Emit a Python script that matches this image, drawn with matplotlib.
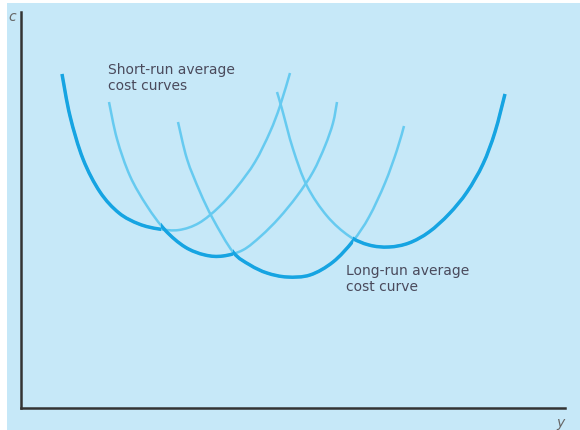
#!/usr/bin/env python3

"""
Short-run and long-run average cost curves: the long-run curve is the
lower envelope of the short-run curves.
"""

import matplotlib as mpl
import matplotlib.pyplot as plt
import numpy as np
from matplotlib.patches import PathPatch, Rectangle
from matplotlib.path import Path

mpl.use("Agg")

# Short-run average cost curves, (output, cost) points
sr1_y = [41, 49, 62, 79, 98, 118, 138, 158, 178, 198, 216, 234, 249, 259, 269]
sr1_c = [334, 292, 249, 216, 195, 184, 179, 178, 185, 201, 221, 246, 276, 302, 335]

sr2_y = [88, 96, 109, 126, 144, 164, 184, 202, 222, 240, 258, 276, 292, 304, 312, 316]
sr2_c = [306, 269, 232, 202, 178, 161, 153, 152, 158, 172, 190, 212, 236, 262, 285, 306]

sr3_y = [157, 166, 179, 192, 212, 229, 246, 266, 289, 312, 332, 348, 364, 376, 383]
sr3_c = [286, 249, 216, 189, 156, 143, 135, 131, 133, 146, 167, 191, 225, 258, 282]

sr4_y = [256, 261, 272, 286, 306, 328, 348, 368, 388, 408, 428, 446, 462, 474, 484]
sr4_c = [316, 299, 259, 222, 192, 172, 163, 161, 165, 176, 194, 216, 244, 276, 314]

# output ranges where each short-run curve is the lowest (long-run envelope)
envelope_ranges = [(0, 140), (140, 212), (212, 332), (332, 544)]

BG = "#c6e8f8"
LIGHT = "#66caf0"
DARK = "#16a4e2"
TEXT = "#4a4a5c"


def smooth_path(xs, ys):
    """Cubic Bezier path passing through the given points (Catmull-Rom)."""
    p = np.column_stack([xs, ys]).astype(float)
    p = np.vstack([p[0], p, p[-1]])
    verts = [p[1]]
    codes = [Path.MOVETO]
    for i in range(1, len(p) - 2):
        c1 = p[i] + (p[i + 1] - p[i - 1]) / 6
        c2 = p[i + 1] - (p[i + 2] - p[i]) / 6
        verts += [c1, c2, p[i + 1]]
        codes += [Path.CURVE4] * 3
    return Path(verts, codes)


def main():
    """Entry point."""
    fig = plt.figure(figsize=(5.8, 4.31), dpi=100)
    fig.patch.set_facecolor("white")

    # light blue panel behind the diagram
    bg = fig.add_axes([7 / 580, 0, 573 / 580, 427 / 431], zorder=0)
    bg.set_facecolor(BG)
    bg.set_xticks([])
    bg.set_yticks([])
    for spine in bg.spines.values():
        spine.set_visible(False)

    ax = fig.add_axes([21 / 580, 22 / 431, 544 / 580, 396 / 431], zorder=1)
    ax.set_facecolor("none")
    ax.set_xlim(0, 544)
    ax.set_ylim(0, 396)
    ax.set_xticks([])
    ax.set_yticks([])
    for side in ["top", "right"]:
        ax.spines[side].set_visible(False)
    for side in ["left", "bottom"]:
        ax.spines[side].set_linewidth(1.8)
        ax.spines[side].set_color("#333333")

    curves = [(sr1_y, sr1_c), (sr2_y, sr2_c), (sr3_y, sr3_c), (sr4_y, sr4_c)]
    for (ys, cs), (lo, hi) in zip(curves, envelope_ranges):
        path = smooth_path(ys, cs)
        ax.add_patch(PathPatch(path, fill=False, edgecolor=LIGHT, lw=1.8,
                               capstyle="butt", zorder=2))
        dark = PathPatch(path, fill=False, edgecolor=DARK, lw=2.5,
                         capstyle="butt", zorder=3)
        ax.add_patch(dark)
        dark.set_clip_path(Rectangle((lo, -10), hi - lo, 420, transform=ax.transData))

    ax.text(87, 346, "Short-run average\ncost curves", ha="left", va="top",
            fontsize=10, color=TEXT, linespacing=1.2)
    ax.text(325, 145, "Long-run average\ncost curve", ha="left", va="top",
            fontsize=10, color=TEXT, linespacing=1.2)

    fig.text(12 / 580, 1 - 17 / 431, "c", ha="center", va="center",
             fontsize=10, style="italic", color="#666666", zorder=3)
    fig.text(560 / 580, 1 - 423 / 431, "y", ha="center", va="center",
             fontsize=10, style="italic", color="#666666", zorder=3)

    fig.savefig("out.png", dpi=100)


if __name__ == "__main__":
    main()
